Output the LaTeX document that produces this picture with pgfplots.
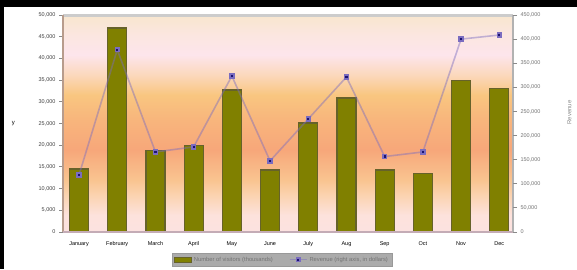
\documentclass[border=0pt]{standalone}
\usepackage{fontspec}
\setmainfont{Liberation Sans}
\usepackage{pgfplots}
\pgfplotsset{compat=1.18}
\definecolor{barfill}{HTML}{808000}
\definecolor{baredge}{HTML}{66622A}
\definecolor{linecol}{HTML}{7A6CC0}
\definecolor{markcol}{HTML}{1C1470}
\definecolor{s1}{HTML}{FCE2E0}
\definecolor{s2}{HTML}{FDE2DC}
\definecolor{s3}{HTML}{FBD3B0}
\definecolor{s4}{HTML}{F9C490}
\definecolor{s5}{HTML}{F7A77A}
\definecolor{s6}{HTML}{F8B57C}
\definecolor{s7}{HTML}{F9C680}
\definecolor{s8}{HTML}{FBD8BC}
\definecolor{s9}{HTML}{FDE5EC}
\definecolor{s10}{HTML}{FBE6E0}
\definecolor{s11}{HTML}{F8E6CE}
\definecolor{legbg}{HTML}{ABABAB}
\definecolor{tickgray}{HTML}{8A8A8A}
\pgfdeclareverticalshading{bgshade}{100bp}{color(0bp)=(s1); color(25bp)=(s1); color(28.9bp)=(s2); color(33.5bp)=(s3); color(37bp)=(s4); color(43.9bp)=(s5); color(50.8bp)=(s6); color(56.6bp)=(s7); color(61.2bp)=(s8); color(65.8bp)=(s9); color(70.4bp)=(s10); color(75bp)=(s11); color(100bp)=(s11)}

\pgfplotstableread{
x bars
0 14500
1 47000
2 18800
3 19900
4 32700
5 14300
6 25100
7 30900
8 14300
9 13500
10 35000
11 33000
}\bardata

\pgfplotstableread{
x line
0 118500
1 378000
2 166000
3 176500
4 323500
5 147500
6 234500
7 321500
8 156500
9 166000
10 400000
11 408500
}\linedata

\begin{document}
\begin{tikzpicture}[x=1pt,y=1pt]
\useasboundingbox (0,0) rectangle (577,269);
\fill[black] (0,262) rectangle (577,269);
\fill[black] (0,0) rectangle (4,269);
\begin{axis}[
  at={(63pt,37pt)}, anchor=south west,
  width=450pt, height=217pt, scale only axis,
  xmin=-0.42, xmax=11.36, ymin=0, ymax=50000,
  axis background/.style={shading=bgshade},
  axis line style={draw=none},
  xtick={0,...,11},
  xticklabels={January,February,March,April,May,June,July,Aug,Sep,Oct,Nov,Dec},
  x tick label style={font=\fontsize{5.5}{6}\selectfont, text=black, yshift=-2pt},
  major x tick style={draw=none},
  extra x ticks={0.5,1.5,...,10.5},
  extra x tick labels={},
  extra x tick style={major tick length=4pt, tick align=outside, tick style={draw=tickgray!70, line width=1pt}},
  ytick={0,5000,...,50000},
  y tick label style={font=\fontsize{5.5}{6}\selectfont, text=black!75},
  /pgf/number format/fixed,
  /pgf/number format/assume math mode=true,
  /pgf/number format/1000 sep={,},
  scaled y ticks=false,
  ytick pos=left,
  tick align=outside,
  major tick length=4pt,
  y tick style={draw=tickgray, line width=1pt},
  ylabel={\fontsize{6}{7}\selectfont y},
  ylabel style={rotate=-90, anchor=center, at={(rel axis cs:-0.11,0.5)}},
  clip=false,
  after end axis/.code={
    \draw[draw=black!20, line width=3pt] (rel axis cs:0,1) -- (rel axis cs:1,1);
    \draw[draw={rgb,255:red,184;green,156;blue,140}, line width=2pt] (rel axis cs:0,0) -- (rel axis cs:0,1);
    \draw[draw={rgb,255:red,196;green,172;blue,182}, line width=2pt] (rel axis cs:0,0) -- (rel axis cs:1,0);
    \draw[draw=black!30, line width=2.5pt] (rel axis cs:1,0) -- (rel axis cs:1,1);
  },
]
\addplot[ybar, bar width=19pt, fill=barfill, draw=baredge, line width=1.2pt] table[x=x, y=bars] {\bardata};
\end{axis}
\begin{axis}[
  at={(63pt,37pt)}, anchor=south west,
  width=450pt, height=217pt, scale only axis,
  xmin=-0.42, xmax=11.36, ymin=0, ymax=450000,
  axis x line=none,
  axis y line*=right,
  axis line style={draw=none},
  ytick={0,50000,...,450000},
  y tick label style={font=\fontsize{5.5}{6}\selectfont, text=black!55},
  /pgf/number format/fixed,
  /pgf/number format/assume math mode=true,
  /pgf/number format/1000 sep={,},
  scaled y ticks=false,
  tick align=outside,
  major tick length=4pt,
  y tick style={draw=tickgray, line width=1pt},
  ylabel={\fontsize{6}{7}\selectfont\color{black!45} Revenue},
  ylabel style={anchor=center, at={(rel axis cs:1.125,0.55)}},
  legend style={at={(0.487,-0.095)}, anchor=north, fill=legbg, draw=black!40,
    font=\fontsize{5.8}{7}\selectfont, text=black!55, legend columns=2,
    inner sep=2pt, /tikz/every even column/.append style={column sep=14pt}},
  clip=false,
]
\addlegendimage{area legend, fill=barfill, draw=baredge}
\addlegendentry{Number of visitors (thousands)}
\addplot[draw=linecol, draw opacity=0.45, line width=1.6pt, mark=square*, mark size=1.9pt,
  mark options={fill=markcol, draw=none, opacity=1}] table[x=x, y=line] {\linedata};
\addlegendentry{Revenue (right axis, in dollars)}
\end{axis}
\end{tikzpicture}
\end{document}
